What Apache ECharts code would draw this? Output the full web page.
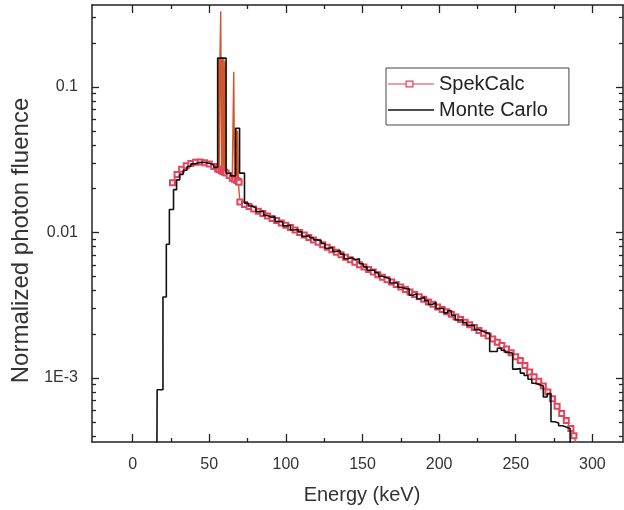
<!DOCTYPE html>
<html>
<head>
<meta charset="utf-8">
<script src="https://cdn.jsdelivr.net/npm/echarts@6/dist/echarts.min.js"></script>
<style>
html,body{margin:0;padding:0;background:#fff;}
#chart{width:624px;height:510px;}
</style>
</head>
<body>
<div id="chart"></div>
<script>
// ---- data ----
const xMajorTicks = [0, 50, 100, 150, 200, 250, 300];
const xMinorTicks = [25, 75, 125, 175, 225, 275];
const yMajorTicks = [0.001, 0.01, 0.1];
const yMajorLabels = ['1E-3', '0.01', '0.1'];
const yMinorTicks = [0.0004, 0.0005, 0.0006, 0.0007, 0.0008, 0.0009,
  0.002, 0.003, 0.004, 0.005, 0.006, 0.007, 0.008, 0.009,
  0.02, 0.03, 0.04, 0.05, 0.06, 0.07, 0.08, 0.09, 0.2, 0.3];

const seriesNames = ['SpekCalc', 'Monte Carlo'];

// SpekCalc (line with square markers)
const spekEnergy = [
  26, 29, 32, 35, 38, 41, 44, 47, 50, 53,
  55.5, 56, 56.5, 57, 57.5, 58, 58.5, 59, 59.5, 60,
  60.5, 61, 63, 65, 66, 66.5, 67.5, 68, 68.5, 69,
  69.5, 70, 73, 76, 79, 82, 85, 88, 91, 94,
  97, 100, 103, 106, 109, 112, 115, 118, 121, 124,
  127, 130, 133, 136, 139, 142, 145, 148, 151, 154,
  157, 160, 163, 166, 169, 172, 175, 178, 181, 184,
  187, 190, 193, 196, 199, 202, 205, 208, 211, 214,
  217, 220, 223, 226, 229, 232, 235, 238, 241, 244,
  247, 250, 253, 256, 259, 262, 265, 268, 271, 274,
  277, 280, 283, 286, 288, 290
];
const spekFluence = [
  0.0220, 0.0250, 0.0272, 0.0288, 0.0298, 0.0304, 0.0305, 0.0302, 0.0295, 0.0284,
  0.0273, 0.155, 0.0270, 0.160, 0.330, 0.0266, 0.160, 0.0262, 0.155, 0.0259,
  0.150, 0.0256, 0.0246, 0.0236, 0.127, 0.0232, 0.052, 0.0228, 0.050, 0.0224,
  0.0221, 0.0162, 0.0156, 0.0151, 0.0145, 0.0140, 0.0135, 0.0130, 0.0125, 0.0121,
  0.0116, 0.0112, 0.0108, 0.0104, 0.00998, 0.00959, 0.00925, 0.00889, 0.00855, 0.00822,
  0.00791, 0.00760, 0.00731, 0.00703, 0.00676, 0.00650, 0.00625, 0.00601, 0.00578, 0.00556,
  0.00535, 0.00513, 0.00493, 0.00474, 0.00456, 0.00439, 0.00422, 0.00406, 0.00390, 0.00375,
  0.00361, 0.00347, 0.00333, 0.00321, 0.00308, 0.00296, 0.00285, 0.00274, 0.00262, 0.00252,
  0.00242, 0.00232, 0.00222, 0.00212, 0.00203, 0.00194, 0.00185, 0.00176, 0.00167, 0.00158,
  0.00149, 0.00140, 0.00132, 0.00122, 0.00110, 0.00102, 0.00095, 0.00088, 0.00080, 0.00072,
  0.00064, 0.00057, 0.00051, 0.00045, 0.00040, 0.00034
];

// Monte Carlo histogram (bin left edges, bin values)
const mcEnergy = [
  15, 16, 19.8, 22, 24, 26.7, 28.7, 30.7, 33, 35.5,
  38, 40.5, 43, 45.5, 48, 50.5, 53, 55.5, 61, 64,
  67.2, 69.8, 73, 75.5, 78, 80.5, 83, 85.5, 88, 90.5,
  93, 95.5, 98, 100.5, 103, 105.5, 108, 110.5, 113, 115.5,
  118, 120.5, 123, 125.5, 128, 130.5, 133, 135.5, 138, 140.5,
  143, 145.5, 148, 150.5, 153, 155.5, 158, 160.5, 163, 165.5,
  168, 170.5, 173, 175.5, 178, 180.5, 183, 185.5, 188, 190.5,
  193, 195.5, 198, 200.5, 203, 205.5, 208, 210.5, 213, 215.5,
  218, 220.5, 223, 225.5, 228, 230.5, 233, 235.5, 238, 240.5,
  243, 245.5, 248, 250.5, 253, 255.5, 258, 260.5, 263, 265.5,
  268, 270.5, 273, 275.5, 278, 280.5, 283, 285.5
];
const mcFluence = [
  1e-6, 0.00083, 0.0036, 0.0083, 0.0144, 0.0197, 0.0230, 0.0251, 0.0268, 0.0284,
  0.0296, 0.0302, 0.0304, 0.0302, 0.0298, 0.0291, 0.0280, 0.158, 0.0255, 0.0245,
  0.052, 0.0256, 0.0159, 0.0152, 0.0148, 0.0139, 0.0140, 0.0131, 0.0127, 0.0128,
  0.0119, 0.0118, 0.0111, 0.0112, 0.0104, 0.0105, 0.0101, 0.0094, 0.0095, 0.0092,
  0.0089, 0.0088, 0.0084, 0.0078, 0.0079, 0.0074, 0.0075, 0.0071, 0.0066, 0.0067,
  0.0065, 0.0066, 0.0061, 0.0058, 0.0055, 0.0055, 0.0053, 0.0050, 0.0049, 0.0048,
  0.0045, 0.0045, 0.0042, 0.0041, 0.0041, 0.0037, 0.0038, 0.0035, 0.0036, 0.0034,
  0.0032, 0.0033, 0.0030, 0.0030, 0.0028, 0.0029, 0.0027, 0.0025, 0.0025, 0.0024,
  0.0023, 0.0023, 0.00215, 0.0021, 0.00205, 0.00203, 0.00152, 0.00152, 0.0016, 0.00155,
  0.0015, 0.00148, 0.00115, 0.00116, 0.00108, 0.00104, 0.00098, 0.00092, 0.0009, 0.00088,
  0.00074, 0.00078, 0.0005, 0.00049, 0.00047, 0.00046, 0.00045, 1e-6
];

// ---- chart ----
const X_MIN = -26.5, X_MAX = 320;
const Y_MIN = 0.000363, Y_MAX = 0.366;
const FONT = '"Liberation Sans", Arial, sans-serif';
const AX = '#222';
const TXT = '#333';

// legend glyphs: line with a small open square / plain line (46 x 8 box)
const ICON_SPEK = 'path://M0,3.5H18V4.5H0Z M17.5,0.5H25.5V7.5H17.5Z M18.7,1.7V6.3H24.3V1.7Z M25,3.5H46V4.5H25Z';
const ICON_MC = 'path://M4,3.4H46V4.6H4Z';

const chart = echarts.init(document.getElementById('chart'), null, {renderer: 'canvas'});

function xAxisDef(pos, ticks, len, labels, showLine, extra) {
  return Object.assign({
    type: 'value', gridIndex: 0, position: pos, min: X_MIN, max: X_MAX,
    axisLine: {show: showLine, onZero: false, lineStyle: {color: AX, width: 1.5}},
    axisTick: {show: true, inside: true, length: len, customValues: ticks, lineStyle: {color: AX, width: 1.3}},
    axisLabel: labels ? {show: true, customValues: ticks, fontSize: 16, fontFamily: FONT, color: TXT, margin: 15}
                      : {show: false},
    splitLine: {show: false}
  }, extra || {});
}
function yAxisDef(pos, ticks, len, labels, showLine, extra) {
  return Object.assign({
    type: 'log', logBase: 10, gridIndex: 0, position: pos, min: Y_MIN, max: Y_MAX,
    axisLine: {show: showLine, onZero: false, lineStyle: {color: AX, width: 1.5}},
    axisTick: {show: true, inside: true, length: len, customValues: ticks, lineStyle: {color: AX, width: 1.3}},
    axisLabel: labels ? {show: true, customValues: ticks, fontSize: 16, fontFamily: FONT, color: TXT, margin: 14,
                         formatter: function (v) {
                           for (let i = 0; i < yMajorTicks.length; i++) {
                             if (Math.abs(v - yMajorTicks[i]) / yMajorTicks[i] < 1e-6) return yMajorLabels[i];
                           }
                           return '';
                         }}
                      : {show: false},
    splitLine: {show: false}
  }, extra || {});
}

const option = {
  backgroundColor: '#fff',
  animation: false,
  grid: {left: 92, right: 1, top: 5, bottom: 68, containLabel: false, outerBoundsMode: 'none'},
  legend: {
    data: [
      {name: seriesNames[0], icon: ICON_SPEK,
       itemStyle: {color: '#d8405a', borderWidth: 0}, lineStyle: {width: 0}},
      {name: seriesNames[1], icon: ICON_MC,
       itemStyle: {color: '#111', borderWidth: 0}, lineStyle: {width: 0}}
    ],
    orient: 'vertical',
    left: 386, top: 68,
    padding: [5, 21, 4, 2],
    itemGap: 4,
    itemWidth: 46,
    itemHeight: 8,
    borderColor: '#444', borderWidth: 1,
    textStyle: {fontSize: 20, fontFamily: FONT, color: '#222', lineHeight: 22}
  },
  xAxis: [
    xAxisDef('bottom', xMajorTicks, 8, true, true, {
      name: 'Energy (keV)', nameLocation: 'middle', nameGap: 43,
      nameTextStyle: {fontSize: 20, fontFamily: FONT, color: TXT, padding: [0, 0, 0, 9]}
    }),
    xAxisDef('bottom', xMinorTicks, 4, false, false),
    xAxisDef('top', xMajorTicks, 8, false, true),
    xAxisDef('top', xMinorTicks, 4, false, false)
  ],
  yAxis: [
    yAxisDef('left', yMajorTicks, 7, true, true, {
      name: 'Normalized photon fluence', nameLocation: 'middle', nameGap: 58,
      nameTextStyle: {fontSize: 24, fontFamily: FONT, color: TXT, padding: [0, 34, 0, 0]}
    }),
    yAxisDef('left', yMinorTicks, 4, false, false),
    yAxisDef('right', yMajorTicks, 7, false, true),
    yAxisDef('right', yMinorTicks, 4, false, false)
  ],
  series: [
    {
      name: seriesNames[0], type: 'line', xAxisIndex: 0, yAxisIndex: 0,
      data: spekEnergy.map((e, i) => [e, spekFluence[i]]),
      symbol: function (v) { return v[1] > 0.04 ? 'none' : 'emptyRect'; },
      symbolSize: 5,
      showAllSymbol: true,
      lineStyle: {color: '#d0562c', width: 1.4},
      itemStyle: {color: '#e2465c', borderColor: '#e2465c', borderWidth: 1},
      clip: true, z: 2
    },
    {
      name: seriesNames[1], type: 'line', xAxisIndex: 0, yAxisIndex: 0,
      step: 'end',
      data: mcEnergy.map((e, i) => [e, mcFluence[i]]),
      symbol: 'none',
      lineStyle: {color: '#111', width: 1.6},
      itemStyle: {color: '#111'},
      clip: true, z: 3
    }
  ]
};
chart.setOption(option);
</script>
</body>
</html>
